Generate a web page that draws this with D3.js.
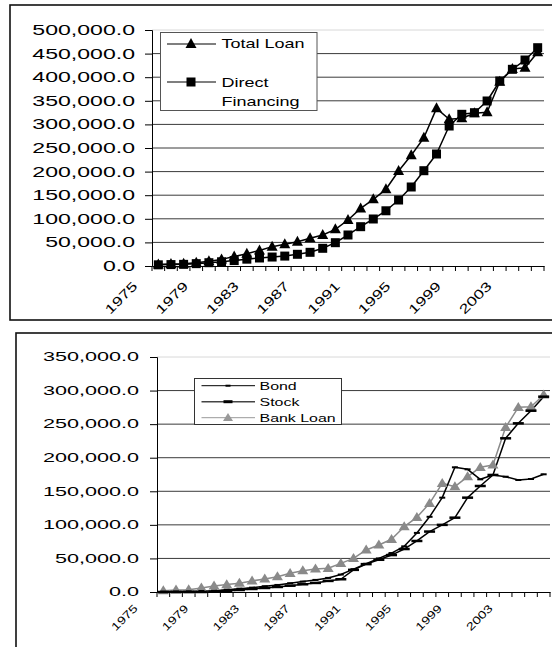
<!DOCTYPE html>
<html><head><meta charset="utf-8">
<script src="https://cdn.jsdelivr.net/npm/d3@7"></script>
<style>body{margin:0;background:#fff}svg{display:block}text{font-family:"Liberation Sans",Arial,sans-serif}</style>
</head><body>
<svg id="c" width="552" height="647"></svg>
<script>
const years = [1975,1976,1977,1978,1979,1980,1981,1982,1983,1984,1985,1986,1987,1988,1989,1990,
  1991,1992,1993,1994,1995,1996,1997,1998,1999,2000,2001,2002,2003,2004,2005];
const xTickLabels = [1975,1979,1983,1987,1991,1995,1999,2003];

const totalLoan = [3000,4000,5000,7000,10000,14000,20000,26000,33000,41000,46000,51500,58700,65700,77700,97500,
  122000,141300,162500,201300,234500,271800,334000,310800,312900,323500,325600,390500,417400,420000,452700];
const directFinancing = [2500,3000,3500,5000,7000,9000,11500,14500,17000,19000,21000,24800,29000,37500,49400,65700,
  83300,99600,117000,139800,167400,201900,237300,296600,321400,324800,349600,392000,416700,436400,462500];

const bond = [500,800,1000,1500,2000,3500,5000,6500,8500,10500,13000,15500,18000,21000,26000,34000,
  42000,50000,58000,68000,88000,112000,140500,185700,182700,167800,174300,171700,166800,168300,175300];
const stock = [0,0,0,0,500,1500,3000,4500,6000,7500,9400,11500,13500,16500,19000,33000,
  41500,48000,55000,64000,76000,90000,100000,110700,140500,157900,174300,228900,251200,270000,290900];
const bankLoan = [2000,3000,3500,6000,9000,11000,13000,16500,19500,22800,27800,31800,34300,35300,42700,50100,
  62600,70000,78500,97300,111200,132100,161900,156900,171800,185700,189200,245300,275100,276000,293400];

const yTicksTop = [0,50000,100000,150000,200000,250000,300000,350000,400000,450000,500000];
const yTicksBottom = [0,50000,100000,150000,200000,250000,300000,350000];

const svg = d3.select("#c");
const fmt = d3.format(",.1f");

function stretchedText(g, transform, str, size, anchor) {
  return g.append("text")
    .attr("transform", transform)
    .attr("text-anchor", anchor).attr("font-size", size).attr("fill", "#000").text(str);
}

function triPath(w, h) { return `M0,${-h*0.6}L${w/2},${h*0.4}L${-w/2},${h*0.4}Z`; }

// frames
svg.append("rect").attr("x",10).attr("y",5).attr("width",560).attr("height",315)
  .attr("fill","none").attr("stroke","#111").attr("stroke-width",1.6);
svg.append("rect").attr("x",16).attr("y",333).attr("width",560).attr("height",340)
  .attr("fill","none").attr("stroke","#111").attr("stroke-width",1.6);

function drawChart(cfg) {
  const g = svg.append("g");
  const x = d3.scaleBand().domain(years).range([cfg.x0, cfg.x1]).padding(0);
  const y = d3.scaleLinear().domain([0, cfg.ymax]).range([cfg.yb, cfg.yt]);
  const cx = d => x(d) + x.bandwidth()/2;
  // grid
  g.selectAll(".grid").data(cfg.yTicks.filter(v => v > 0)).join("line")
    .attr("x1", cfg.x0).attr("x2", cfg.x1).attr("y1", d => y(d)).attr("y2", d => y(d))
    .attr("stroke", d => d === cfg.ymax ? "#d8d8d8" : "#3a3a3a").attr("stroke-width", 1);
  // y axis
  const ya = d3.axisLeft(y).tickValues(cfg.yTicks).tickSize(7).tickFormat("");
  const yag = g.append("g").attr("transform", `translate(${cfg.x0},0)`).call(ya);
  yag.select(".domain").attr("stroke","#000");
  yag.selectAll(".tick line").attr("stroke","#000");
  cfg.yTicks.forEach(v => stretchedText(g,
    `translate(${cfg.yLabelX},${y(v) + cfg.yFont*0.36}) scale(${cfg.ySx},1)`, fmt(v), cfg.yFont, "end"));
  // x axis
  const xa = d3.axisBottom(x).tickSize(0).tickFormat("");
  const xag = g.append("g").attr("transform", `translate(0,${cfg.yb})`).call(xa);
  xag.select(".domain").attr("stroke","#000");
  const bounds = years.map(d => x(d)).concat([cfg.x1]);
  g.selectAll(".xt").data(bounds).join("line")
    .attr("x1", d => d).attr("x2", d => d).attr("y1", cfg.yb).attr("y2", cfg.yb + 5)
    .attr("stroke", "#000");
  xTickLabels.forEach(yr => stretchedText(g,
    `translate(${cx(yr) + cfg.xLabDx},${cfg.xLabY}) rotate(-45) scale(${cfg.xSx},1)`, String(yr), cfg.xFont, "end"));
  // series
  cfg.series.forEach(s => {
    const line = d3.line().x((d,i) => cx(years[i])).y(d => y(d));
    g.append("path").datum(s.values).attr("d", line).attr("fill","none")
      .attr("stroke", s.color).attr("stroke-width", s.width).attr("stroke-linejoin","round");
  });
  cfg.series.forEach(s => {
    const mg = g.append("g");
    s.values.forEach((v,i) => {
      const px = cx(years[i]), py = y(v);
      if (s.marker === "tri") mg.append("path").attr("d", triPath(s.mw, s.mh)).attr("transform",`translate(${px},${py})`).attr("fill", s.mcolor);
      else mg.append("rect").attr("x", px - s.mw/2).attr("y", py - s.mh/2).attr("width", s.mw).attr("height", s.mh).attr("fill", s.mcolor);
    });
  });
  return {g, x, y};
}

// top chart
drawChart({
  x0:152, x1:544, yb:266, yt:30, ymax:500000, yTicks:yTicksTop,
  yLabelX:135, yFont:14, ySx:1.65,
  xLabDx:-20, xLabY:287, xFont:13, xSx:1.37,
  series:[
    {values: directFinancing, color:"#000", width:1.5, marker:"sq", mw:9, mh:9, mcolor:"#000"},
    {values: totalLoan, color:"#000", width:1.5, marker:"tri", mw:11, mh:10, mcolor:"#000"}
  ]
});

// bottom chart
drawChart({
  x0:157, x1:550, yb:592, yt:357, ymax:350000, yTicks:yTicksBottom,
  yLabelX:139, yFont:12, ySx:1.8,
  xLabDx:-25, xLabY:609, xFont:11, xSx:1.3,
  series:[
    {values: bankLoan, color:"#8a8a8a", width:1.5, marker:"tri", mw:11, mh:9, mcolor:"#8a8a8a"},
    {values: bond, color:"#000", width:1.5, marker:"sq", mw:6, mh:2, mcolor:"#000"},
    {values: stock, color:"#000", width:1.5, marker:"sq", mw:11, mh:2.5, mcolor:"#000"}
  ]
});

// top legend
const lg1 = svg.append("g");
lg1.append("rect").attr("x",160.5).attr("y",32.5).attr("width",156.5).attr("height",78)
  .attr("fill","#fff").attr("stroke","#555").attr("stroke-width",1);
lg1.append("line").attr("x1",167).attr("x2",216).attr("y1",44).attr("y2",44).attr("stroke","#000").attr("stroke-width",1.2);
lg1.append("path").attr("d", triPath(11,10)).attr("transform","translate(191,44)").attr("fill","#000");
stretchedText(lg1, "translate(221.5,48) scale(1.5,1)", "Total Loan", 12, "start");
lg1.append("line").attr("x1",167).attr("x2",216).attr("y1",82).attr("y2",82).attr("stroke","#000").attr("stroke-width",1.2);
lg1.append("rect").attr("x",186.5).attr("y",77.5).attr("width",9).attr("height",9).attr("fill","#000");
stretchedText(lg1, "translate(221.5,87) scale(1.5,1)", "Direct", 12, "start");
stretchedText(lg1, "translate(221.5,106) scale(1.5,1)", "Financing", 12, "start");

// bottom legend
const lg2 = svg.append("g");
lg2.append("rect").attr("x",194.5).attr("y",378.5).attr("width",147).attr("height",46)
  .attr("fill","#fff").attr("stroke","#333").attr("stroke-width",1);
const leg2 = [
  {name:"Bond", y:385.7, color:"#000", w:1, mk:"sq", mw:5, mh:2, mc:"#000"},
  {name:"Stock", y:401.7, color:"#444", w:1.5, mk:"sq", mw:9, mh:3, mc:"#000"},
  {name:"Bank Loan", y:417.7, color:"#999", w:1, mk:"tri", mw:10, mh:8, mc:"#999"}
];
leg2.forEach(e => {
  lg2.append("line").attr("x1",201.5).attr("x2",255).attr("y1",e.y).attr("y2",e.y).attr("stroke",e.color).attr("stroke-width",e.w);
  if (e.mk === "tri") lg2.append("path").attr("d", triPath(e.mw,e.mh)).attr("transform",`translate(228,${e.y})`).attr("fill",e.mc);
  else lg2.append("rect").attr("x",228-e.mw/2).attr("y",e.y-e.mh/2).attr("width",e.mw).attr("height",e.mh).attr("fill",e.mc);
  stretchedText(lg2, `translate(259.5,${e.y + 4}) scale(1.45,1)`, e.name, 11, "start");
});
</script>
</body></html>
